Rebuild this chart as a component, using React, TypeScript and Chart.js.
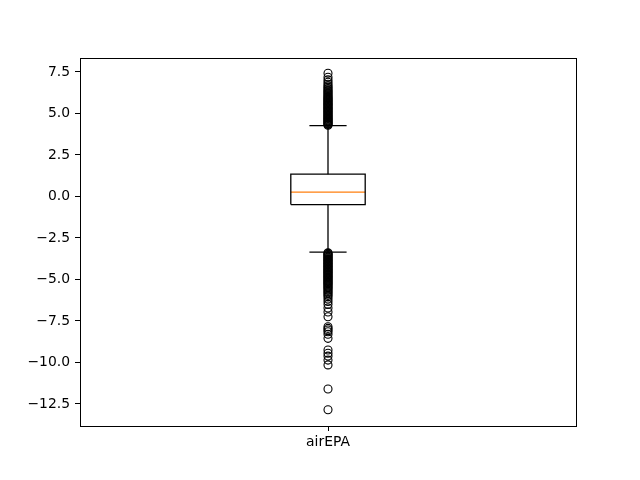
import React, { useEffect, useRef } from "react";
import { Chart, registerables } from "chart.js";

Chart.register(...registerables);

const categories = ["airEPA"];
const boxPosition = [1];
const q1Values = [-0.49];
const medianValues = [0.26];
const q3Values = [1.34];
const whiskerLowValues = [-3.36];
const whiskerHighValues = [4.27];
const yTickValues = [-12.5, -10.0, -7.5, -5.0, -2.5, 0.0, 2.5, 5.0, 7.5];

const outliersHigh = [
  4.29, 4.33, 4.38, 4.42, 4.47, 4.51, 4.56, 4.6, 4.65, 4.7, 4.74, 4.79, 4.84,
  4.88, 4.93, 4.98, 5.03, 5.08, 5.12, 5.17, 5.22, 5.27, 5.31, 5.36, 5.41, 5.46,
  5.51, 5.55, 5.6, 5.65, 5.7, 5.75, 5.8, 5.85, 5.9, 5.95, 6.0, 6.06, 6.12, 6.18,
  6.24, 6.3, 6.36, 6.42, 6.5, 6.58, 6.66, 6.76, 6.88, 7.02, 7.18, 7.42,
];

const outliersLow = [
  -3.39, -3.43, -3.48, -3.52, -3.57, -3.61, -3.66, -3.7, -3.75, -3.79, -3.84,
  -3.88, -3.93, -3.97, -4.02, -4.06, -4.11, -4.15, -4.2, -4.24, -4.29, -4.33,
  -4.38, -4.42, -4.47, -4.51, -4.56, -4.6, -4.65, -4.7, -4.74, -4.79, -4.84,
  -4.88, -4.93, -4.98, -5.03, -5.08, -5.13, -5.18, -5.23, -5.28, -5.34, -5.4,
  -5.46, -5.52, -5.58, -5.65, -5.72, -5.8, -5.88, -5.96, -6.05, -6.18, -6.33,
  -6.5, -6.72, -6.96, -7.25, -7.85, -7.95, -8.05, -8.15, -8.3, -8.55, -9.25,
  -9.45, -9.62, -9.86, -10.15, -11.6, -12.85,
];

const boxHalfWidth = 0.075;
const capHalfWidth = 0.0375;

export default function App() {
  const canvasRef = useRef<HTMLCanvasElement | null>(null);

  useEffect(() => {
    document.body.style.margin = "0";
    const canvas = canvasRef.current;
    if (!canvas) return;
    const x0 = boxPosition[0];
    const q1 = q1Values[0];
    const q3 = q3Values[0];
    const med = medianValues[0];
    const wl = whiskerLowValues[0];
    const wh = whiskerHighValues[0];
    const black = "#000000";
    const lineDs = (data: { x: number; y: number }[], color: string) => ({
      type: "scatter" as const,
      data,
      showLine: true,
      borderColor: color,
      backgroundColor: color,
      borderWidth: 1.3,
      pointRadius: 0,
      pointHoverRadius: 0,
      fill: false,
    });

    const framePlugin = {
      id: "frame",
      afterDraw(chart: any) {
        const { ctx, chartArea } = chart;
        ctx.save();
        ctx.strokeStyle = black;
        ctx.lineWidth = 1;
        ctx.strokeRect(
          Math.round(chartArea.left) + 0.5,
          Math.round(chartArea.top) + 0.5,
          Math.round(chartArea.right - chartArea.left),
          Math.round(chartArea.bottom - chartArea.top)
        );
        ctx.restore();
      },
    };

    const font = { family: "DejaVu Sans", size: 13.9 };

    const chart = new Chart(canvas, {
      type: "scatter",
      data: {
        datasets: [
          lineDs(
            [
              { x: x0 - boxHalfWidth, y: q1 },
              { x: x0 + boxHalfWidth, y: q1 },
              { x: x0 + boxHalfWidth, y: q3 },
              { x: x0 - boxHalfWidth, y: q3 },
              { x: x0 - boxHalfWidth, y: q1 },
            ],
            black
          ),
          lineDs(
            [
              { x: x0, y: q3 },
              { x: x0, y: wh },
            ],
            black
          ),
          lineDs(
            [
              { x: x0, y: q1 },
              { x: x0, y: wl },
            ],
            black
          ),
          lineDs(
            [
              { x: x0 - capHalfWidth, y: wh },
              { x: x0 + capHalfWidth, y: wh },
            ],
            black
          ),
          lineDs(
            [
              { x: x0 - capHalfWidth, y: wl },
              { x: x0 + capHalfWidth, y: wl },
            ],
            black
          ),
          lineDs(
            [
              { x: x0 - boxHalfWidth, y: med },
              { x: x0 + boxHalfWidth, y: med },
            ],
            "#ff7f0e"
          ),
          {
            type: "scatter" as const,
            data: [...outliersHigh, ...outliersLow].map((v) => ({ x: x0, y: v })),
            pointRadius: 4,
            pointHoverRadius: 4,
            pointBorderWidth: 1.1,
            borderColor: black,
            backgroundColor: "rgba(0,0,0,0)",
            showLine: false,
          },
        ],
      },
      options: {
        animation: false,
        responsive: false,
        maintainAspectRatio: false,
        layout: { padding: { left: 0, top: 58, right: 64, bottom: 0 } },
        plugins: {
          legend: { display: false },
          tooltip: { enabled: false },
        },
        scales: {
          x: {
            type: "linear",
            min: 0.5,
            max: 1.5,
            afterBuildTicks: (scale: any) => {
              scale.ticks = boxPosition.map((v) => ({ value: v }));
            },
            afterFit: (scale: any) => {
              scale.height = 54;
            },
            ticks: {
              color: black,
              font,
              padding: 3,
              maxRotation: 0,
              callback: (_v: any, i: number) => categories[i],
            },
            grid: {
              drawOnChartArea: false,
              drawTicks: true,
              tickLength: 5,
              color: black,
              lineWidth: 1,
            },
            border: { display: false },
          },
          y: {
            type: "linear",
            min: -13.83,
            max: 8.34,
            afterBuildTicks: (scale: any) => {
              scale.ticks = yTickValues.map((v) => ({ value: v }));
            },
            afterFit: (scale: any) => {
              scale.width = 80;
            },
            ticks: {
              color: black,
              font,
              padding: 5,
              callback: (v: any) => {
                const n = Number(v);
                const s = Math.abs(n).toFixed(1);
                return n < 0 ? "\u2212" + s : s;
              },
            },
            grid: {
              drawOnChartArea: false,
              drawTicks: true,
              tickLength: 5,
              color: black,
              lineWidth: 1,
            },
            border: { display: false },
          },
        },
      },
      plugins: [framePlugin],
    } as any);

    return () => {
      chart.destroy();
    };
  }, []);

  return (
    <div style={{ width: 640, height: 480 }}>
      <canvas ref={canvasRef} width={640} height={480} style={{ width: 640, height: 480, display: "block" }} />
    </div>
  );
}
